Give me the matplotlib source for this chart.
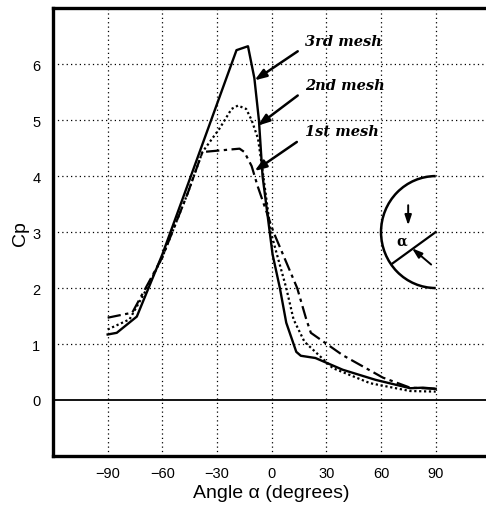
import numpy as np
import matplotlib
matplotlib.use('Agg')
import matplotlib.pyplot as plt
from matplotlib.patches import Arc

# pressure coefficient vs angle, three mesh refinements
alpha3 = [-90, -85, -74, -60, -46, -19.3, -13, -9.5, -7, -5, 0.5, 4.5, 8, 13.5, 16, 24, 39, 57, 76, 83, 90]
cp3 = [1.17, 1.2, 1.49, 2.6, 3.85, 6.25, 6.32, 5.75, 5.0, 4.0, 2.6, 2.0, 1.38, 0.86, 0.79, 0.75, 0.54, 0.36, 0.21, 0.22, 0.2]

alpha2 = [-90, -78, -70, -60, -46, -38, -28.6, -22, -18.5, -14, -11, -7.5, -5, -0.5, 8, 12, 18, 33.5, 54, 76, 90]
cp2 = [1.26, 1.44, 1.9, 2.55, 3.7, 4.43, 4.85, 5.2, 5.26, 5.2, 5.0, 4.67, 4.1, 3.0, 2.0, 1.44, 1.04, 0.57, 0.3, 0.16, 0.15]

alpha1 = [-90, -76.5, -70, -60, -46, -38, -17.6, -15, -11, -7.7, 1, 14, 19, 21.5, 39, 61, 76, 90]
cp1 = [1.47, 1.56, 1.95, 2.55, 3.7, 4.43, 4.49, 4.43, 4.18, 3.82, 3.0, 2.0, 1.44, 1.2, 0.8, 0.4, 0.22, 0.2]

xticks = [-90, -60, -30, 0, 30, 60, 90]
yticks = [0, 1, 2, 3, 4, 5, 6]
labels = ['3rd mesh', '2nd mesh', '1st mesh']

plt.rcParams['font.family'] = ['Liberation Sans', 'DejaVu Sans']

fig = plt.figure(figsize=(4.86, 5.10), dpi=100)
ax = fig.add_axes([0.109, 0.104, 0.90, 0.878])

ax.set_xlim(-120, 120)
ax.set_ylim(-1, 7)

# grid
for x in xticks:
    ax.axvline(x, color='black', lw=0.9, linestyle=(0, (1, 2.5)), zorder=1)
for y in yticks[1:]:
    ax.axhline(y, color='black', lw=0.9, linestyle=(0, (1, 2.5)), zorder=1)
ax.axhline(0, color='black', lw=1.3, zorder=1)

ax.plot(alpha3, cp3, color='black', lw=1.7, zorder=3)
ax.plot(alpha2, cp2, color='black', lw=1.6, linestyle=(0, (1, 1.2)), zorder=3)
ax.plot(alpha1, cp1, color='black', lw=1.6, linestyle=(0, (6, 2, 1.5, 2)), zorder=3)

# mesh labels with arrows
tails = [(14.3, 6.23), (14.3, 5.44), (13.8, 4.61)]
heads = [(-9.4, 5.71), (-7.7, 4.9), (-9.4, 4.09)]
ytext = [6.41, 5.62, 4.81]
for lab, t, h, yt in zip(labels, tails, heads, ytext):
    ax.annotate('', xy=h, xytext=t,
                arrowprops=dict(arrowstyle='-|>,head_length=0.7,head_width=0.25',
                                color='black', lw=1.8, shrinkA=0, shrinkB=0))
    ax.text(18.2, yt, lab, fontsize=10.5, fontstyle='italic', fontweight='bold',
            family='DejaVu Serif', va='center', ha='left')

# cylinder sketch
ax.add_patch(Arc((90, 3), 60, 2, theta1=90, theta2=270, color='black', lw=1.8, zorder=4))
ax.plot([90, 66.3], [3, 2.44], color='black', lw=1.6, zorder=4)
ax.annotate('', xy=(74.9, 3.12), xytext=(74.9, 3.48),
            arrowprops=dict(arrowstyle='-|>,head_length=0.6,head_width=0.2',
                            color='black', lw=1.4, shrinkA=0, shrinkB=0))
ax.annotate('', xy=(77, 2.71), xytext=(87.5, 2.42),
            arrowprops=dict(arrowstyle='-|>,head_length=0.6,head_width=0.2',
                            color='black', lw=1.4, shrinkA=0, shrinkB=0))
ax.text(71.6, 2.84, 'α', fontsize=10, fontweight='bold', family='DejaVu Serif',
        ha='center', va='center')

ax.set_xticks(xticks)
ax.set_yticks(yticks)
ax.set_xticklabels(['−90', '−60', '−30', '0', '30', '60', '90'])
ax.tick_params(axis='x', length=0, labelsize=10.5, pad=7)
ax.tick_params(axis='y', length=0, labelsize=10.5, pad=9)
ax.set_xlabel('Angle α (degrees)', fontsize=14, labelpad=3)
ax.set_ylabel('Cp', fontsize=14, labelpad=2)

for s in ['left', 'bottom', 'top']:
    ax.spines[s].set_linewidth(2.4)
ax.spines['right'].set_visible(False)

fig.savefig('out.png', dpi=100)
